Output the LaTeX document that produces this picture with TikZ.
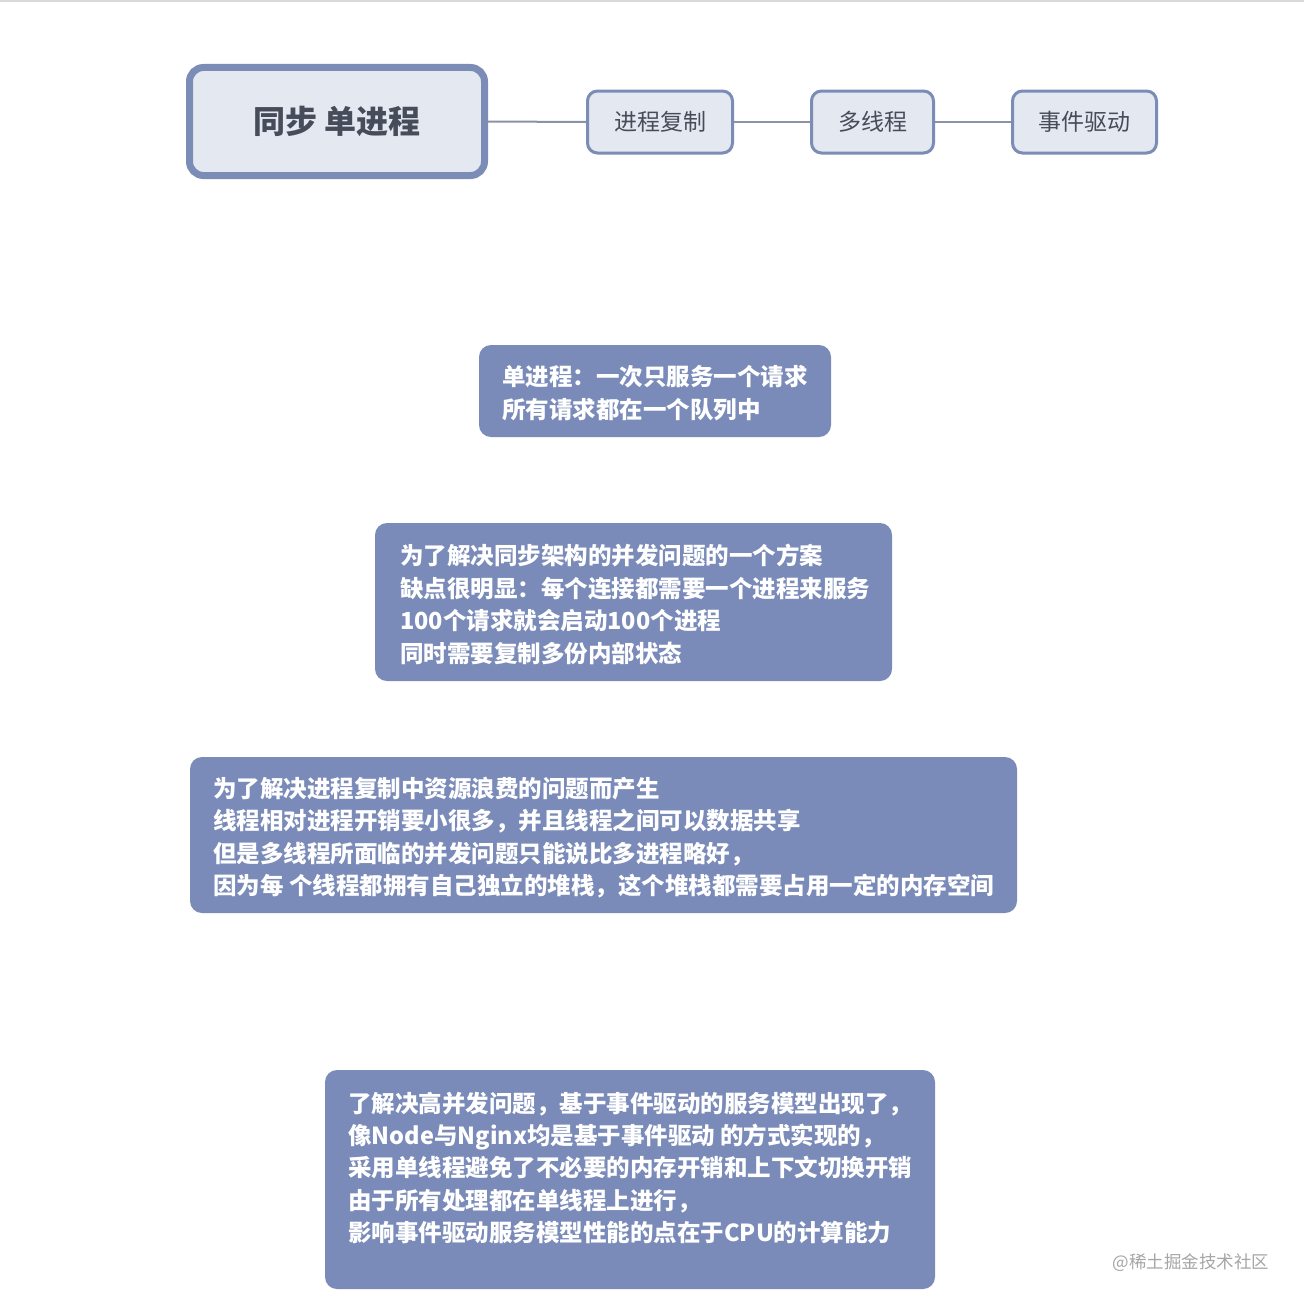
\documentclass[tikz,border=0pt]{standalone}
\usepackage{fontspec}
\setmainfont{Noto Sans CJK SC}
\begin{document}
\begin{tikzpicture}[x=1pt,y=-1pt,
  mainbox/.style={draw=edgeblue, line width=7pt, fill=lightfill, rounded corners=14pt, minimum width=295pt, minimum height=108pt, inner sep=0pt, text=darktext, font=\fontsize{32}{36}\selectfont\bfseries},
  topic/.style={draw=edgeblue, line width=3pt, fill=lightfill, rounded corners=10pt, minimum height=62pt, inner sep=0pt, text=darktext, font=\fontsize{23}{26}\selectfont},
  notebox/.style={fill=notefill, rounded corners=12pt, inner sep=0pt},
  notetext/.style={anchor=west, align=left, inner sep=0pt, text=white, font=\fontsize{23.5}{32.4}\selectfont\bfseries},
  link/.style={draw=linkgray, line width=2pt}
]
\definecolor{edgeblue}{HTML}{7B8CB6}
\definecolor{lightfill}{HTML}{E4E8F0}
\definecolor{darktext}{HTML}{474C5A}
\definecolor{notefill}{HTML}{7A8BB9}
\definecolor{linkgray}{HTML}{8A92A5}
\useasboundingbox (0,0) rectangle (1304,1306);
\fill[white] (0,0) rectangle (1304,1306);
\fill[black!15] (0,0) rectangle (1304,2.5);

\node[mainbox] (main) at (337,121.5) {同步 单进程};
\node[topic, minimum width=145pt] (fork) at (660,122) {进程复制};
\node[topic, minimum width=122pt] (thread) at (872.5,122) {多线程};
\node[topic, minimum width=144pt] (event) at (1084.5,122) {事件驱动};
\draw[link] (main.east) -- (fork.west);
\draw[link] (fork.east) -- (thread.west);
\draw[link] (thread.east) -- (event.west);

\node[notebox, minimum width=352pt, minimum height=92pt] (b1) at (655,391) {};
\node[notetext] (t1) at (502,393) {单进程：一次只服务一个请求\\所有请求都在一个队列中};

\node[notebox, minimum width=517pt, minimum height=158pt] (b2) at (633.5,602) {};
\node[notetext] (t2) at (400,604.5) {为了解决同步架构的并发问题的一个方案\\缺点很明显：每个连接都需要一个进程来服务\\100个请求就会启动100个进程\\同时需要复制多份内部状态};

\node[notebox, minimum width=827pt, minimum height=156pt] (b3) at (603.5,835) {};
\node[notetext] (t3) at (213,837.5) {为了解决进程复制中资源浪费的问题而产生\\线程相对进程开销要小很多，并且线程之间可以数据共享\\但是多线程所面临的并发问题只能说比多进程略好，\\因为每 个线程都拥有自己独立的堆栈，这个堆栈都需要占用一定的内存空间};

\node[notebox, minimum width=610pt, minimum height=219pt] (b4) at (630,1179.5) {};
\node[notetext] (t4) at (348,1168) {了解决高并发问题，基于事件驱动的服务模型出现了，\\像Node与Nginx均是基于事件驱动 的方式实现的，\\采用单线程避免了不必要的内存开销和上下文切换开销\\由于所有处理都在单线程上进行，\\影响事件驱动服务模型性能的点在于CPU的计算能力};

\node[text=black!35, inner sep=0pt, font=\fontsize{17.5}{20}\selectfont] (wm) at (1191,1263) {@稀土掘金技术社区};
\end{tikzpicture}
\end{document}
